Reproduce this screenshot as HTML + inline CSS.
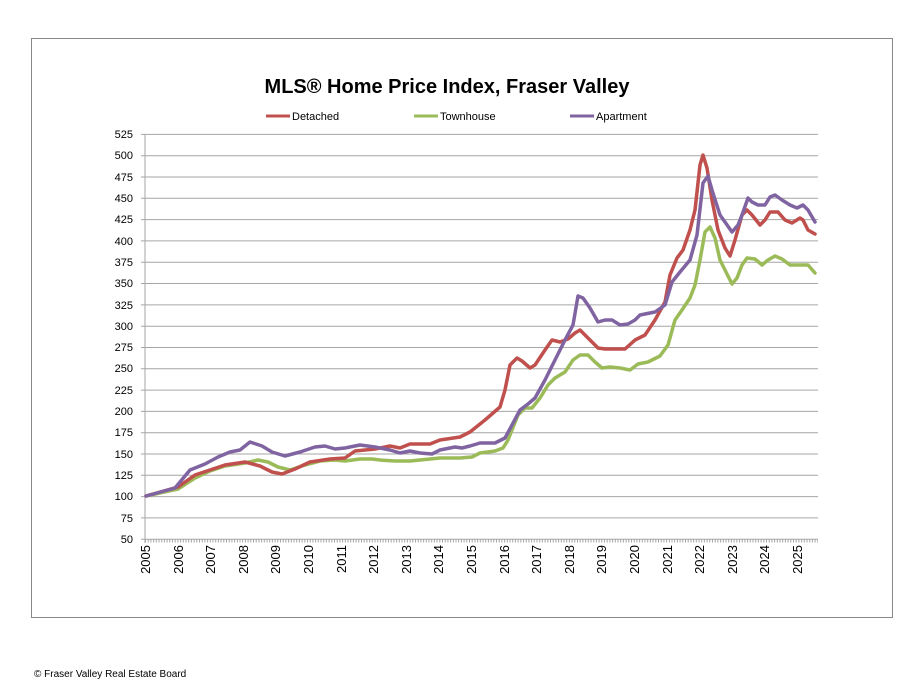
<!DOCTYPE html><html><head><style>body{margin:0;background:#fff;width:912px;height:692px;overflow:hidden;font-family:"Liberation Sans",Arial,sans-serif}</style></head><body>
<svg width="912" height="692" xmlns="http://www.w3.org/2000/svg" font-family="Liberation Sans, Arial, sans-serif">
<rect x="31.5" y="38.5" width="861" height="579" fill="#fff" stroke="#888" stroke-width="1"/>
<text x="447" y="93" text-anchor="middle" font-size="20" font-weight="bold">MLS® Home Price Index, Fraser Valley</text>
<g font-size="11">
<line x1="266" y1="116" x2="290" y2="116" stroke="#c0504d" stroke-width="3"/><text x="292" y="120">Detached</text>
<line x1="414" y1="116" x2="438" y2="116" stroke="#9bbb59" stroke-width="3"/><text x="440" y="120">Townhouse</text>
<line x1="570" y1="116" x2="594" y2="116" stroke="#8064a2" stroke-width="3"/><text x="596" y="120">Apartment</text>
</g>
<g stroke="#a6a6a6" stroke-width="1">
<line x1="141" y1="134.4" x2="818" y2="134.4"/><line x1="141" y1="155.7" x2="818" y2="155.7"/><line x1="141" y1="177" x2="818" y2="177"/><line x1="141" y1="198.3" x2="818" y2="198.3"/><line x1="141" y1="219.6" x2="818" y2="219.6"/><line x1="141" y1="240.9" x2="818" y2="240.9"/><line x1="141" y1="262.2" x2="818" y2="262.2"/><line x1="141" y1="283.5" x2="818" y2="283.5"/><line x1="141" y1="304.9" x2="818" y2="304.9"/><line x1="141" y1="326.2" x2="818" y2="326.2"/><line x1="141" y1="347.5" x2="818" y2="347.5"/><line x1="141" y1="368.8" x2="818" y2="368.8"/><line x1="141" y1="390.1" x2="818" y2="390.1"/><line x1="141" y1="411.4" x2="818" y2="411.4"/><line x1="141" y1="432.7" x2="818" y2="432.7"/><line x1="141" y1="454" x2="818" y2="454"/><line x1="141" y1="475.3" x2="818" y2="475.3"/><line x1="141" y1="496.6" x2="818" y2="496.6"/><line x1="141" y1="517.9" x2="818" y2="517.9"/><line x1="141" y1="539.2" x2="818" y2="539.2"/>
<line x1="145" y1="134" x2="145" y2="543"/>
</g>
<g font-size="11" text-anchor="end">
<text x="133" y="138">525</text><text x="133" y="159">500</text><text x="133" y="181">475</text><text x="133" y="202">450</text><text x="133" y="223">425</text><text x="133" y="245">400</text><text x="133" y="266">375</text><text x="133" y="287">350</text><text x="133" y="309">325</text><text x="133" y="330">300</text><text x="133" y="351">275</text><text x="133" y="372">250</text><text x="133" y="394">225</text><text x="133" y="415">200</text><text x="133" y="436">175</text><text x="133" y="458">150</text><text x="133" y="479">125</text><text x="133" y="500">100</text><text x="133" y="522">75</text><text x="133" y="543">50</text>
</g>
<g font-size="13" text-anchor="end">
<text transform="translate(150,545) rotate(-90)">2005</text><text transform="translate(183,545) rotate(-90)">2006</text><text transform="translate(215,545) rotate(-90)">2007</text><text transform="translate(248,545) rotate(-90)">2008</text><text transform="translate(280,545) rotate(-90)">2009</text><text transform="translate(313,545) rotate(-90)">2010</text><text transform="translate(346,545) rotate(-90)">2011</text><text transform="translate(378,545) rotate(-90)">2012</text><text transform="translate(411,545) rotate(-90)">2013</text><text transform="translate(443,545) rotate(-90)">2014</text><text transform="translate(476,545) rotate(-90)">2015</text><text transform="translate(509,545) rotate(-90)">2016</text><text transform="translate(541,545) rotate(-90)">2017</text><text transform="translate(574,545) rotate(-90)">2018</text><text transform="translate(606,545) rotate(-90)">2019</text><text transform="translate(639,545) rotate(-90)">2020</text><text transform="translate(672,545) rotate(-90)">2021</text><text transform="translate(704,545) rotate(-90)">2022</text><text transform="translate(737,545) rotate(-90)">2023</text><text transform="translate(769,545) rotate(-90)">2024</text><text transform="translate(802,545) rotate(-90)">2025</text>
</g>
<line x1="145" y1="541" x2="818" y2="541" stroke="#a6a6a6" stroke-width="3" stroke-dasharray="1,1.7"/>
<g fill="none" stroke-width="3.5" stroke-linejoin="round" stroke-linecap="round">
<polyline stroke="#9bbb59" points="146,496 178,489 195,478 210,471 225,466 245,463 258,460 268,462 278,467 290,470 305,465 320,461 335,460 345,461 360,459 372,459 380,460 395,461 410,461 420,460 440,458 460,458 472,457 480,453 495,451 503,448 508,440 512,430 518,415 525,408 532,408 540,398 548,385 555,378 565,372 573,360 580,355 588,355 595,362 602,368 610,367 620,368 630,370 638,364 648,362 660,356 668,345 675,320 682,310 690,298 695,285 700,260 705,232 710,227 715,238 720,260 726,272 732,284 737,278 742,265 747,258 755,259 762,265 768,260 775,256 782,259 790,265 800,265 808,265 815,273"/>
<polyline stroke="#c0504d" points="146,496 178,487 195,475 210,470 225,465 245,462 260,466 272,472 282,474 295,469 310,462 330,459 345,458 355,451 375,449 390,446 400,448 410,444 430,444 440,440 460,437 470,432 485,420 500,407 505,390 510,365 517,358 522,361 530,368 535,365 545,350 552,340 560,342 568,339 575,333 580,330 588,338 598,348 605,349 615,349 625,349 635,340 645,335 655,320 665,302 670,275 677,258 683,250 690,230 695,210 700,165 703,155 707,168 712,200 718,230 725,248 730,256 735,240 742,215 747,210 752,215 760,225 765,220 770,212 778,212 785,220 792,223 800,218 803,220 808,230 815,234"/>
<polyline stroke="#8064a2" points="146,496 175,488 190,470 205,464 218,457 230,452 240,450 250,442 262,446 272,452 285,456 300,452 315,447 325,446 335,449 345,448 360,445 375,447 390,450 400,453 410,451 420,453 432,454 440,450 455,447 462,448 470,446 480,443 495,443 505,438 512,425 520,410 528,404 535,398 545,380 555,360 565,340 573,325 578,296 583,298 590,308 598,322 605,320 612,320 620,325 628,324 635,320 640,315 650,313 655,312 665,305 672,282 680,272 690,260 697,235 703,183 708,176 712,190 720,215 725,222 732,232 738,225 742,215 748,198 752,202 758,205 765,205 770,197 775,195 782,200 790,205 797,208 803,205 808,210 815,222"/>
</g>
<text x="34" y="677" font-size="10">© Fraser Valley Real Estate Board</text>
</svg></body></html>
